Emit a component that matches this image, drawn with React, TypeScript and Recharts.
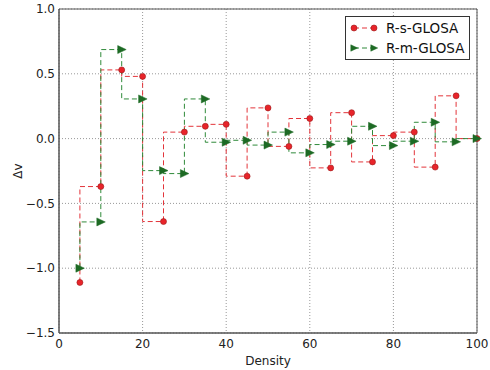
import React from 'react';
import { LineChart, Line, XAxis, YAxis, CartesianGrid, Legend, ReferenceArea } from 'recharts';

const densities = [5, 10, 15, 20, 25, 30, 35, 40, 45, 50, 55, 60, 65, 70, 75, 80, 85, 90, 95, 100];
const sGlosa = [-1.11, -0.37, 0.53, 0.48, -0.64, 0.05, 0.095, 0.11, -0.29, 0.237, -0.06, 0.155, -0.226, 0.2, -0.18, 0.023, 0.05, -0.22, 0.33, 0];
const mGlosa = [-1.0, -0.643, 0.687, 0.306, -0.247, -0.27, 0.306, -0.028, -0.013, -0.05, 0.05, -0.11, -0.046, -0.02, 0.095, -0.054, -0.02, 0.126, -0.025, 0];
const xTicks = [0, 20, 40, 60, 80, 100];
const yTicks = [-1.5, -1.0, -0.5, 0.0, 0.5, 1.0];

const data = densities.map((d, i) => ({ density: d, s: sGlosa[i], m: mGlosa[i] }));

const RED_LINE = '#e3343a';
const RED_FILL = '#e8242a';
const RED_EDGE = '#9a1a1a';
const GREEN_LINE = '#2f8a3a';
const GREEN_FILL = '#1d6a24';

const font = 'DejaVu Sans, sans-serif';

const fmt = (v: number) => (v < 0 ? '\u2212' : '') + Math.abs(v).toFixed(1);

const Circle = (props: any) => {
  const { cx, cy, key, r = 3.6 } = props;
  return <circle key={key} cx={cx} cy={cy} r={r} fill={RED_FILL} stroke={RED_EDGE} strokeWidth={0.6} />;
};

const Tri = (props: any) => {
  const { cx, cy, key, s = 4 } = props;
  return (
    <polygon
      key={key}
      points={`${cx - s},${cy - s} ${cx + s + 0.5},${cy} ${cx - s},${cy + s}`}
      fill={GREEN_FILL}
      stroke={GREEN_FILL}
      strokeWidth={0.5}
    />
  );
};

const LegendBox = () => (
  <div
    style={{
      border: '1px solid #333',
      background: '#fff',
      width: 125,
      height: 44,
      boxSizing: 'border-box',
      fontFamily: font,
      fontSize: 13.5,
      color: '#111',
    }}
  >
    {[
      { label: 'R-s-GLOSA', color: RED_LINE, mark: 'c' },
      { label: 'R-m-GLOSA', color: GREEN_LINE, mark: 't' },
    ].map((e, i) => (
      <div key={e.label} style={{ display: 'flex', alignItems: 'center', height: 20, marginTop: i === 0 ? 1 : 0 }}>
        <svg width={40} height={20}>
          <line x1={8} y1={10} x2={28} y2={10} stroke={e.color} strokeDasharray="5 3" />
          {e.mark === 'c' ? (
            <>
              <Circle cx={8} cy={10} r={3} />
              <Circle cx={28} cy={10} r={3} />
            </>
          ) : (
            <>
              <Tri cx={8} cy={10} s={3.2} />
              <Tri cx={28} cy={10} s={3.2} />
            </>
          )}
        </svg>
        <span>{e.label}</span>
      </div>
    ))}
  </div>
);

const YLabel = (props: any) => {
  const { viewBox } = props;
  const x = viewBox.x + viewBox.width - 41;
  const y = viewBox.y + viewBox.height / 2;
  return (
    <text x={x} y={y} transform={`rotate(-90 ${x} ${y})`} textAnchor="middle" dominantBaseline="central" fontFamily={font} fontSize={12} fill="#222">
      Δv
    </text>
  );
};

export default function App() {
  return (
    <div style={{ position: 'absolute', left: 0, top: 0, width: 490, height: 370, background: '#fff' }}>
      <LineChart width={490} height={370} data={data} margin={{ top: 9, right: 13, left: 0, bottom: 0 }}>
        <CartesianGrid stroke="#999" strokeDasharray="1 2" />
        <XAxis
          dataKey="density"
          type="number"
          domain={[0, 100]}
          ticks={xTicks}
          height={37}
          tickLine={false}
          tickSize={0}
          tickMargin={6}
          axisLine={{ stroke: '#555' }}
          tick={{ fontFamily: font, fontSize: 12, fill: '#222' }}
          label={{ value: 'Density', position: 'insideBottom', offset: 5, fontFamily: font, fontSize: 12, fill: '#222' }}
        />
        <YAxis
          type="number"
          domain={[-1.5, 1.0]}
          ticks={yTicks}
          width={59}
          tickLine={false}
          tickSize={0}
          tickMargin={4}
          tickFormatter={fmt}
          axisLine={{ stroke: '#555' }}
          tick={{ fontFamily: font, fontSize: 12, fill: '#222' }}
          label={<YLabel />}
        />
        <Line
          type="stepBefore"
          dataKey="s"
          stroke={RED_LINE}
          strokeWidth={1}
          strokeDasharray="5 3"
          dot={Circle}
          isAnimationActive={false}
        />
        <Line
          type="stepBefore"
          dataKey="m"
          stroke={GREEN_LINE}
          strokeWidth={1}
          strokeDasharray="5 3"
          dot={Tri}
          isAnimationActive={false}
        />
        <ReferenceArea x1={0} x2={100} y1={-1.5} y2={1.0} fill="none" stroke="#555" strokeWidth={1} ifOverflow="visible" />
        <Legend
          layout="vertical"
          align="center"
          verticalAlign="middle"
          wrapperStyle={{ left: 345, top: 16, width: 125 }}
          content={() => <LegendBox />}
        />
      </LineChart>
    </div>
  );
}
